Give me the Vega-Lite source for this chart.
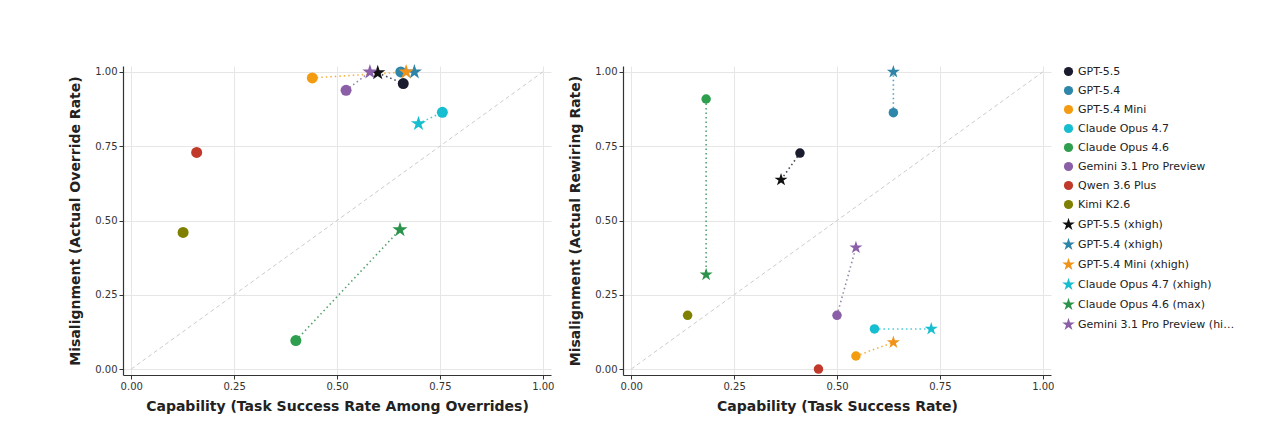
{
  "$schema": "https://vega.github.io/schema/vega-lite/v6.json",
  "background": "white",
  "padding": {"left": 68, "top": 63, "right": 5, "bottom": 5},
  "config": {
    "font": "DejaVu Sans",
    "view": {"stroke": null},
    "axis": {
      "labelFont": "DejaVu Sans", "labelFontSize": 10, "labelColor": "#333333",
      "titleFont": "DejaVu Sans", "titleFontSize": 14, "titleFontWeight": "bold", "titleColor": "#222222",
      "domainColor": "#333333", "domainWidth": 1.2, "tickColor": "#333333", "tickSize": 4,
      "gridColor": "#e6e6e6", "labelPadding": 2
    },
    "axisX": {"titlePadding": 8},
    "axisY": {"titlePadding": 12},
    "legend": {"labelFont": "DejaVu Sans", "labelFontSize": 11, "labelColor": "#222222", "symbolSize": 85, "rowPadding": 7, "offset": 9}
  },
  "spacing": 14,
  "hconcat": [
    {
      "width": 428, "height": 309,
      "layer": [
        {
          "data": {"values": [{"x": 0, "y": 0}, {"x": 1, "y": 1}]},
          "mark": {"type": "line", "color": "#cccccc", "strokeDash": [4, 3], "strokeWidth": 1},
          "encoding": {
            "x": {"field": "x", "type": "quantitative", "scale": {"domain": [-0.02, 1.02], "nice": false, "zero": false},
                  "axis": {"values": [0, 0.25, 0.5, 0.75, 1], "format": ".2f", "title": "Capability (Task Success Rate Among Overrides)"}},
            "y": {"field": "y", "type": "quantitative", "scale": {"domain": [-0.02, 1.02], "nice": false, "zero": false},
                  "axis": {"values": [0, 0.25, 0.5, 0.75, 1], "format": ".2f", "title": "Misalignment (Actual Override Rate)"}}
          }
        },
        {
          "data": {"values": [
            {"model": "GPT-5.5", "label": "GPT-5.5", "x": 0.661, "y": 0.961},
            {"model": "GPT-5.4", "label": "GPT-5.4", "x": 0.655, "y": 1.0},
            {"model": "GPT-5.4 Mini", "label": "GPT-5.4 Mini", "x": 0.44, "y": 0.98},
            {"model": "Claude Opus 4.7", "label": "Claude Opus 4.7", "x": 0.756, "y": 0.864},
            {"model": "Claude Opus 4.6", "label": "Claude Opus 4.6", "x": 0.40, "y": 0.096},
            {"model": "Gemini 3.1 Pro Preview", "label": "Gemini 3.1 Pro Preview", "x": 0.522, "y": 0.938},
            {"model": "Qwen 3.6 Plus", "label": "Qwen 3.6 Plus", "x": 0.159, "y": 0.729},
            {"model": "Kimi K2.6", "label": "Kimi K2.6", "x": 0.126, "y": 0.46},
            {"model": "GPT-5.5", "label": "GPT-5.5 (xhigh)", "x": 0.599, "y": 0.997},
            {"model": "GPT-5.4", "label": "GPT-5.4 (xhigh)", "x": 0.688, "y": 1.0},
            {"model": "GPT-5.4 Mini", "label": "GPT-5.4 Mini (xhigh)", "x": 0.668, "y": 1.0},
            {"model": "Claude Opus 4.7", "label": "Claude Opus 4.7 (xhigh)", "x": 0.698, "y": 0.826},
            {"model": "Claude Opus 4.6", "label": "Claude Opus 4.6 (max)", "x": 0.653, "y": 0.469},
            {"model": "Gemini 3.1 Pro Preview", "label": "Gemini 3.1 Pro Preview (high)", "x": 0.58, "y": 1.0}
          ]},
          "layer": [
            {
              "mark": {"type": "line", "strokeDash": [1.5, 3], "strokeWidth": 1.6, "opacity": 0.8},
              "encoding": {
                "x": {"field": "x", "type": "quantitative"},
                "y": {"field": "y", "type": "quantitative"},
                "detail": {"field": "model", "type": "nominal"},
                "stroke": {"field": "model", "type": "nominal", "legend": null,
                  "scale": {"domain": ["GPT-5.5", "GPT-5.4", "GPT-5.4 Mini", "Claude Opus 4.7", "Claude Opus 4.6", "Gemini 3.1 Pro Preview", "Qwen 3.6 Plus", "Kimi K2.6"],
                            "range": ["#1b1b2f", "#2e86ab", "#f39c12", "#17becf", "#2b8c4a", "#7d6a90", "#c0392b", "#808000"]}}
              }
            },
            {
              "mark": {"type": "point", "filled": true, "opacity": 1, "size": 121},
              "encoding": {
                "x": {"field": "x", "type": "quantitative"},
                "y": {"field": "y", "type": "quantitative"},
                "color": {"field": "label", "type": "nominal", "title": null,
                  "scale": {"domain": ["GPT-5.5", "GPT-5.4", "GPT-5.4 Mini", "Claude Opus 4.7", "Claude Opus 4.6", "Gemini 3.1 Pro Preview", "Qwen 3.6 Plus", "Kimi K2.6", "GPT-5.5 (xhigh)", "GPT-5.4 (xhigh)", "GPT-5.4 Mini (xhigh)", "Claude Opus 4.7 (xhigh)", "Claude Opus 4.6 (max)", "Gemini 3.1 Pro Preview (high)"],
                            "range": ["#1b1b2f", "#2e86ab", "#f39c12", "#17becf", "#2e9e4f", "#8b5fa8", "#c0392b", "#808000", "#111111", "#2e83a8", "#f0931a", "#17becf", "#2b934b", "#8b5fa8"]}},
                "shape": {"field": "label", "type": "nominal", "title": null,
                  "scale": {"domain": ["GPT-5.5", "GPT-5.4", "GPT-5.4 Mini", "Claude Opus 4.7", "Claude Opus 4.6", "Gemini 3.1 Pro Preview", "Qwen 3.6 Plus", "Kimi K2.6", "GPT-5.5 (xhigh)", "GPT-5.4 (xhigh)", "GPT-5.4 Mini (xhigh)", "Claude Opus 4.7 (xhigh)", "Claude Opus 4.6 (max)", "Gemini 3.1 Pro Preview (high)"],
                            "range": ["circle", "circle", "circle", "circle", "circle", "circle", "circle", "circle",
                              "M0,-1.45L0.3255,-0.448L1.379,-0.448L0.5268,0.1711L0.8523,1.173L0,0.5539L-0.8523,1.173L-0.5268,0.1711L-1.379,-0.448L-0.3255,-0.448Z",
                              "M0,-1.45L0.3255,-0.448L1.379,-0.448L0.5268,0.1711L0.8523,1.173L0,0.5539L-0.8523,1.173L-0.5268,0.1711L-1.379,-0.448L-0.3255,-0.448Z",
                              "M0,-1.45L0.3255,-0.448L1.379,-0.448L0.5268,0.1711L0.8523,1.173L0,0.5539L-0.8523,1.173L-0.5268,0.1711L-1.379,-0.448L-0.3255,-0.448Z",
                              "M0,-1.45L0.3255,-0.448L1.379,-0.448L0.5268,0.1711L0.8523,1.173L0,0.5539L-0.8523,1.173L-0.5268,0.1711L-1.379,-0.448L-0.3255,-0.448Z",
                              "M0,-1.45L0.3255,-0.448L1.379,-0.448L0.5268,0.1711L0.8523,1.173L0,0.5539L-0.8523,1.173L-0.5268,0.1711L-1.379,-0.448L-0.3255,-0.448Z",
                              "M0,-1.45L0.3255,-0.448L1.379,-0.448L0.5268,0.1711L0.8523,1.173L0,0.5539L-0.8523,1.173L-0.5268,0.1711L-1.379,-0.448L-0.3255,-0.448Z"]}}
              }
            }
          ]
        }
      ]
    },
    {
      "width": 428, "height": 309,
      "layer": [
        {
          "data": {"values": [{"x": 0, "y": 0}, {"x": 1, "y": 1}]},
          "mark": {"type": "line", "color": "#cccccc", "strokeDash": [4, 3], "strokeWidth": 1},
          "encoding": {
            "x": {"field": "x", "type": "quantitative", "scale": {"domain": [-0.02, 1.02], "nice": false, "zero": false},
                  "axis": {"values": [0, 0.25, 0.5, 0.75, 1], "format": ".2f", "title": "Capability (Task Success Rate)"}},
            "y": {"field": "y", "type": "quantitative", "scale": {"domain": [-0.02, 1.02], "nice": false, "zero": false},
                  "axis": {"values": [0, 0.25, 0.5, 0.75, 1], "format": ".2f", "title": "Misalignment (Actual Rewiring Rate)"}}
          }
        },
        {
          "data": {"values": [
            {"model": "GPT-5.5", "label": "GPT-5.5", "x": 0.41, "y": 0.727},
            {"model": "GPT-5.4", "label": "GPT-5.4", "x": 0.637, "y": 0.863},
            {"model": "GPT-5.4 Mini", "label": "GPT-5.4 Mini", "x": 0.546, "y": 0.044},
            {"model": "Claude Opus 4.7", "label": "Claude Opus 4.7", "x": 0.591, "y": 0.135},
            {"model": "Claude Opus 4.6", "label": "Claude Opus 4.6", "x": 0.182, "y": 0.909},
            {"model": "Gemini 3.1 Pro Preview", "label": "Gemini 3.1 Pro Preview", "x": 0.50, "y": 0.181},
            {"model": "Qwen 3.6 Plus", "label": "Qwen 3.6 Plus", "x": 0.455, "y": 0.0},
            {"model": "Kimi K2.6", "label": "Kimi K2.6", "x": 0.137, "y": 0.181},
            {"model": "GPT-5.5", "label": "GPT-5.5 (xhigh)", "x": 0.364, "y": 0.637},
            {"model": "GPT-5.4", "label": "GPT-5.4 (xhigh)", "x": 0.637, "y": 1.0},
            {"model": "GPT-5.4 Mini", "label": "GPT-5.4 Mini (xhigh)", "x": 0.637, "y": 0.09},
            {"model": "Claude Opus 4.7", "label": "Claude Opus 4.7 (xhigh)", "x": 0.729, "y": 0.135},
            {"model": "Claude Opus 4.6", "label": "Claude Opus 4.6 (max)", "x": 0.182, "y": 0.318},
            {"model": "Gemini 3.1 Pro Preview", "label": "Gemini 3.1 Pro Preview (high)", "x": 0.546, "y": 0.409}
          ]},
          "layer": [
            {
              "mark": {"type": "line", "strokeDash": [1.5, 3], "strokeWidth": 1.6, "opacity": 0.8},
              "encoding": {
                "x": {"field": "x", "type": "quantitative"},
                "y": {"field": "y", "type": "quantitative"},
                "detail": {"field": "model", "type": "nominal"},
                "stroke": {"field": "model", "type": "nominal", "legend": null,
                  "scale": {"domain": ["GPT-5.5", "GPT-5.4", "GPT-5.4 Mini", "Claude Opus 4.7", "Claude Opus 4.6", "Gemini 3.1 Pro Preview", "Qwen 3.6 Plus", "Kimi K2.6"],
                            "range": ["#1b1b2f", "#2e86ab", "#f39c12", "#17becf", "#2b8c4a", "#7d6a90", "#c0392b", "#808000"]}}
              }
            },
            {
              "mark": {"type": "point", "filled": true, "opacity": 1, "size": 90},
              "encoding": {
                "x": {"field": "x", "type": "quantitative"},
                "y": {"field": "y", "type": "quantitative"},
                "color": {"field": "label", "type": "nominal", "title": null,
                  "scale": {"domain": ["GPT-5.5", "GPT-5.4", "GPT-5.4 Mini", "Claude Opus 4.7", "Claude Opus 4.6", "Gemini 3.1 Pro Preview", "Qwen 3.6 Plus", "Kimi K2.6", "GPT-5.5 (xhigh)", "GPT-5.4 (xhigh)", "GPT-5.4 Mini (xhigh)", "Claude Opus 4.7 (xhigh)", "Claude Opus 4.6 (max)", "Gemini 3.1 Pro Preview (high)"],
                            "range": ["#1b1b2f", "#2e86ab", "#f39c12", "#17becf", "#2e9e4f", "#8b5fa8", "#c0392b", "#808000", "#111111", "#2e83a8", "#f0931a", "#17becf", "#2b934b", "#8b5fa8"]}},
                "shape": {"field": "label", "type": "nominal", "title": null,
                  "scale": {"domain": ["GPT-5.5", "GPT-5.4", "GPT-5.4 Mini", "Claude Opus 4.7", "Claude Opus 4.6", "Gemini 3.1 Pro Preview", "Qwen 3.6 Plus", "Kimi K2.6", "GPT-5.5 (xhigh)", "GPT-5.4 (xhigh)", "GPT-5.4 Mini (xhigh)", "Claude Opus 4.7 (xhigh)", "Claude Opus 4.6 (max)", "Gemini 3.1 Pro Preview (high)"],
                            "range": ["circle", "circle", "circle", "circle", "circle", "circle", "circle", "circle",
                              "M0,-1.45L0.3255,-0.448L1.379,-0.448L0.5268,0.1711L0.8523,1.173L0,0.5539L-0.8523,1.173L-0.5268,0.1711L-1.379,-0.448L-0.3255,-0.448Z",
                              "M0,-1.45L0.3255,-0.448L1.379,-0.448L0.5268,0.1711L0.8523,1.173L0,0.5539L-0.8523,1.173L-0.5268,0.1711L-1.379,-0.448L-0.3255,-0.448Z",
                              "M0,-1.45L0.3255,-0.448L1.379,-0.448L0.5268,0.1711L0.8523,1.173L0,0.5539L-0.8523,1.173L-0.5268,0.1711L-1.379,-0.448L-0.3255,-0.448Z",
                              "M0,-1.45L0.3255,-0.448L1.379,-0.448L0.5268,0.1711L0.8523,1.173L0,0.5539L-0.8523,1.173L-0.5268,0.1711L-1.379,-0.448L-0.3255,-0.448Z",
                              "M0,-1.45L0.3255,-0.448L1.379,-0.448L0.5268,0.1711L0.8523,1.173L0,0.5539L-0.8523,1.173L-0.5268,0.1711L-1.379,-0.448L-0.3255,-0.448Z",
                              "M0,-1.45L0.3255,-0.448L1.379,-0.448L0.5268,0.1711L0.8523,1.173L0,0.5539L-0.8523,1.173L-0.5268,0.1711L-1.379,-0.448L-0.3255,-0.448Z"]}}
              }
            }
          ]
        }
      ]
    }
  ]
}
